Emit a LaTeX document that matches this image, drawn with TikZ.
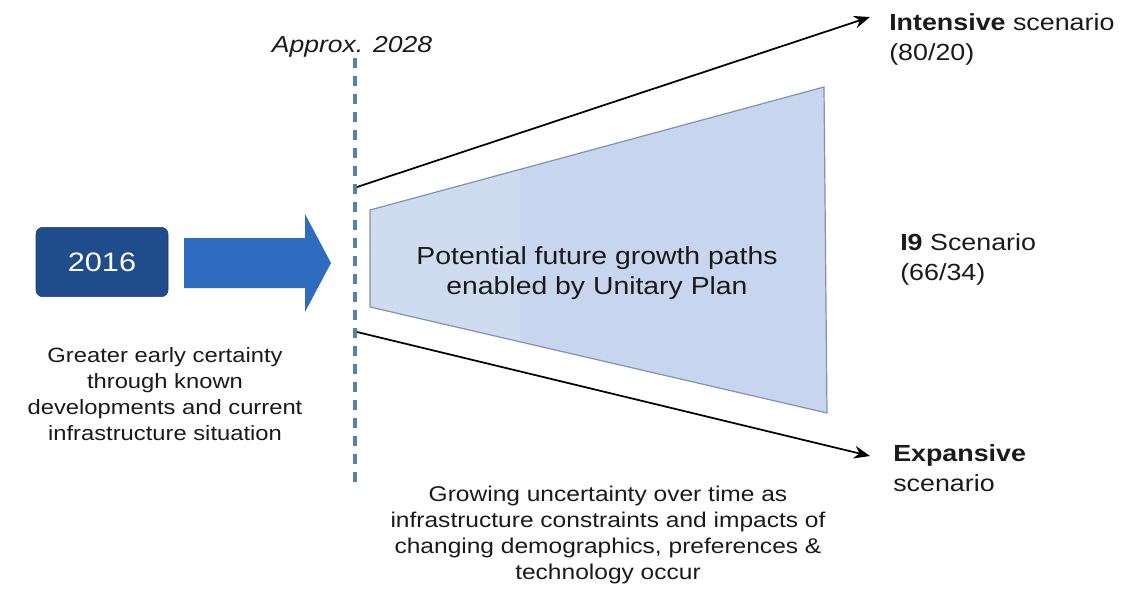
\documentclass[tikz,border=0pt]{standalone}
\usepackage{fontspec}
\setmainfont{Liberation Sans}[FakeStretch=1.15]
\usetikzlibrary{arrows.meta}
\definecolor{navy}{HTML}{1F4C8A}
\definecolor{arrowblue}{HTML}{2F6BBE}
\definecolor{dashblue}{HTML}{5580B0}
\definecolor{trapfill}{HTML}{C7D6EE}
\definecolor{trapfillL}{HTML}{CFDCF0}
\definecolor{trapline}{HTML}{7F93B5}
\definecolor{txt}{HTML}{1A1A1A}
\tikzset{
  yearbox/.style={fill=navy, draw=navy!80!black, rounded corners=5pt, minimum width=99pt, minimum height=52pt, text=white, font=\fontsize{20}{24}\selectfont, inner sep=0pt},
  label/.style={text=txt, align=center, font=\fontsize{15.5}{19.5}\selectfont, inner sep=0pt},
  scen/.style={text=txt, align=left, anchor=north west, font=\fontsize{17.5}{22.5}\selectfont, inner sep=0pt},
  conn/.style={draw=black, line width=1.3pt, -{Stealth[length=12pt,width=9.5pt]}},
}
\begin{document}
\begin{tikzpicture}[x=0.75pt,y=-0.75pt]
\useasboundingbox (0,0) rectangle (1128,589);
\fill[white] (0,0) rectangle (1128,589);
% 2016 box
\node[yearbox] (y2016) at (102,262) {2016};
% big arrow
\fill[arrowblue] (184,238) -- (305,238) -- (305,214) -- (331,263) -- (305,312) -- (305,288) -- (184,288) -- cycle;
% dashed line
\coordinate (dtop) at (355,58);
\coordinate (dbot) at (355,482);
\draw[dashblue, line width=2.5pt, dash pattern=on 7.5pt off 6pt] (dtop) -- (dbot);
\node[text=txt, font=\fontsize{17.3}{20}\selectfont\itshape, inner sep=0pt] (approx) at (352,47) {Approx. 2028};
% trapezoid
\coordinate (tl) at (370,210);
\coordinate (tr) at (824,87);
\coordinate (br) at (827,413);
\coordinate (bl) at (370,307);
\fill[trapfill] (tl) -- (tr) -- (br) -- (bl) -- cycle;
\fill[trapfillL] (tl) -- (520,169.4) -- (520,341.4) -- (bl) -- cycle;
\draw[trapline, line width=0.9pt, line join=miter] (tl) -- (tr) -- (br) -- (bl) -- cycle;
\node[label, font=\fontsize{18.5}{22.5}\selectfont] (pot) at (597,273) {Potential future growth paths\\enabled by Unitary Plan};
% scenario connectors
\coordinate (ustart) at (357,187);
\coordinate (lstart) at (357,332);
\node[scen] (intens) at (889,13) {\textbf{Intensive} scenario\\(80/20)};
\node[scen] (i9) at (900,233) {\textbf{I9} Scenario\\(66/34)};
\node[scen] (expans) at (893,444) {\textbf{Expansive}\\scenario};
\coordinate (uend) at (870,17);
\coordinate (lend) at (870,456);
\draw[conn] (ustart) -- (uend);
\draw[conn] (lstart) -- (lend);
% texts
\node[label] (early) at (165,394) {Greater early certainty\\through known\\developments and current\\infrastructure situation};
\node[label, font=\fontsize{16}{19.5}\selectfont] (grow) at (608,535) {Growing uncertainty over time as\\infrastructure constraints and impacts of\\changing demographics, preferences \&\\technology occur};
\end{tikzpicture}
\end{document}
